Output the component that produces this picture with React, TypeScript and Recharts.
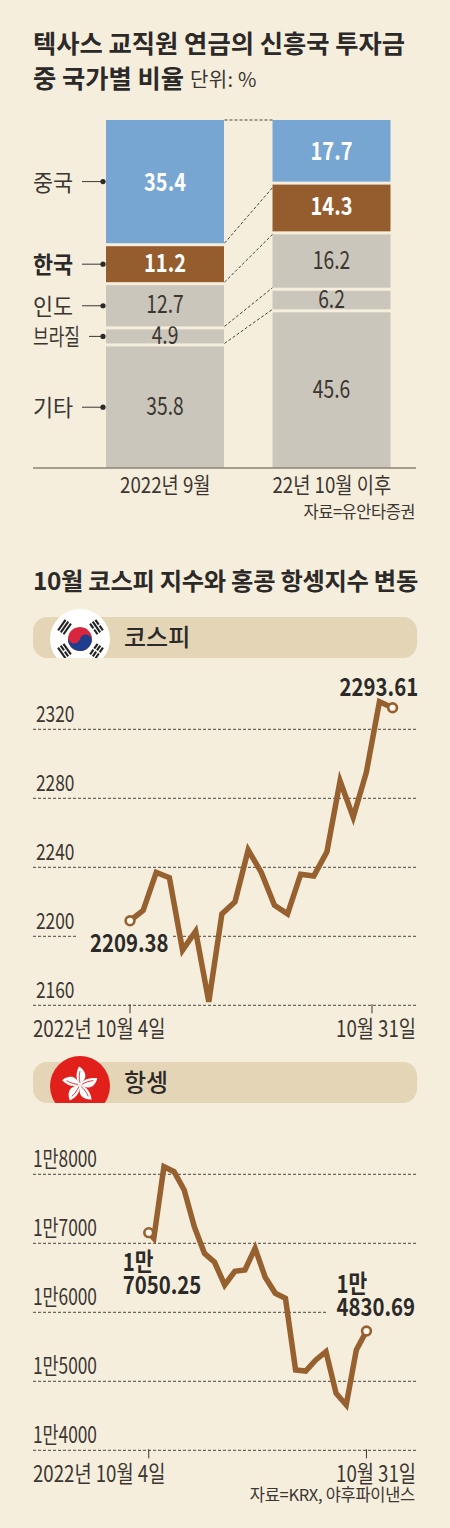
import {
  BarChart,
  Bar,
  LineChart,
  Line,
  XAxis,
  YAxis,
  CartesianGrid,
} from "recharts";

const BG = "#f6eedd";
const PILL = "#e4d5b6";
const DARK = "#2b2a28";
const TEXT = "#3b3631";
const BROWN = "#96602f";
const KR = '"Noto Sans CJK KR", sans-serif';

// stacked shares, bottom to top
const periods = ["2022년 9월", "22년 10월 이후"];
const seriesNames = ["기타", "브라질", "인도", "한국", "중국"];
const otherShare = [35.8, 45.6];
const brazilShare = [4.9, 6.2];
const indiaShare = [12.7, 16.2];
const koreaShare = [11.2, 14.3];
const chinaShare = [35.4, 17.7];
const shares = [otherShare, brazilShare, indiaShare, koreaShare, chinaShare];
const segmentColors = ["#cbc6bb", "#cbc6bb", "#cbc6bb", "#955d2d", "#76a6d1"];
const connectorDrop = [0, 0, 3, 6, 0];

const stackData = periods.map((period, i) => ({
  period,
  s0: otherShare[i],
  s1: brazilShare[i],
  s2: indiaShare[i],
  s3: koreaShare[i],
  s4: chinaShare[i],
}));

// (positions sit on the printed axis, not the callouts)
const kospiX = [0, 1, 2, 3, 4, 5, 6, 7, 8, 9, 10, 11, 12, 13, 14, 15, 16, 17, 18, 19, 20];
const kospiValues = [
  2209, 2215, 2237, 2234, 2192, 2203, 2162, 2213, 2220, 2250, 2237, 2218, 2213, 2236, 2235, 2249,
  2290, 2269, 2295, 2336, 2332.5,
];
const kospiTicks = [2160, 2200, 2240, 2280, 2320];

const hsiX = [-0.5, 0, 1, 2, 3, 4, 5, 6, 7, 8, 9, 10, 11, 12, 13, 14, 15, 16, 17, 18, 19, 20, 21];
const hsiValues = [
  17154, 17072, 18110, 18038, 17772, 17241, 16855, 16725, 16396, 16594, 16613, 16928, 16507, 16275,
  16203, 15164, 15149, 15309, 15429, 14826, 14657, 15454, 15729,
];
const hsiTicks = [14000, 15000, 16000, 17000, 18000];

const toRows = (xs: number[], ys: number[]) => xs.map((x, i) => ({ x, y: ys[i] }));

// the print uses a condensed gothic, so squeeze the glyphs horizontally
function NText({ x, y, size, sx = 0.82, weight = 400, fill = TEXT, anchor = "start", children }: any) {
  return (
    <text
      transform={`translate(${x} ${y}) scale(${sx} 1)`}
      textAnchor={anchor}
      fontFamily={KR}
      fontSize={size}
      fontWeight={weight}
      fill={fill}
    >
      {children}
    </text>
  );
}

function SegmentShape(props: any) {
  const { x, y, width, height, index, fill, series } = props;
  const inset = series === 4 ? 0 : 3;
  const own = shares[series];
  const perUnit = height / own[index];
  const cum = (col: number) => shares.slice(0, series + 1).reduce((s, a) => s + a[col], 0);
  const midY = y + height / 2 + inset / 2;
  const name = seriesNames[series];
  const strong = series >= 3;
  const isKorea = name === "한국";
  return (
    <g>
      <rect x={x} y={y + inset} width={width} height={height - inset} fill={fill} />
      <NText
        x={x + width / 2}
        y={y + height / 2 + 9}
        size={25}
        sx={strong ? 0.8 : 0.77}
        weight={strong ? 700 : 400}
        fill={strong ? "#fff" : TEXT}
        anchor="middle"
      >
        {own[index].toFixed(1)}
      </NText>
      {index === 0 && (
        <g>
          <NText
            x={33}
            y={midY + 9}
            size={23}
            sx={name.length > 2 ? 0.74 : 0.95}
            weight={isKorea ? 700 : 400}
            fill={isKorea ? DARK : TEXT}
          >
            {name}
          </NText>
          <line x1={name.length > 2 ? 89 : 82} x2={103} y1={midY} y2={midY} stroke={TEXT} strokeWidth={1} />
          <circle cx={103} cy={midY} r={2.6} fill={DARK} />
        </g>
      )}
      {index === 1 && (
        <line
          x1={x - 48}
          y1={y + (cum(1) - cum(0)) * perUnit}
          x2={x}
          y2={y + connectorDrop[series]}
          stroke="#46413b"
          strokeWidth={1}
          strokeDasharray="3 2"
        />
      )}
    </g>
  );
}

function PeriodTick({ x, y, payload }: any) {
  return (
    <NText x={x} y={y + 17} size={22} sx={0.85} anchor="middle">
      {payload.value}
    </NText>
  );
}

function YTick({ x0, payload, y, format }: any) {
  return (
    <NText x={x0} y={y - 7} size={22.5} sx={0.77}>
      {format(payload.value)}
    </NText>
  );
}

function XTick({ x, y, payload, index, labels }: any) {
  const first = index === 0;
  return (
    <g>
      <line x1={x} x2={x} y1={y - 9} y2={y} stroke={TEXT} strokeWidth={1} />
      <NText x={first ? 33 : 416} y={y + 24} size={22.5} sx={0.83} anchor={first ? "start" : "end"}>
        {labels[index]}
      </NText>
    </g>
  );
}

type Callout = { lines: string[]; x: number; y: number; mask: number[] };

function endDot(last: number, callouts: Record<number, Callout>) {
  return (props: any) => {
    const { cx, cy, index } = props;
    const c = callouts[index];
    if (index !== 0 && index !== last) return <g key={index} />;
    return (
      <g key={index}>
        {c.mask.length > 0 && (
          <rect x={cx + c.mask[0]} y={cy + c.mask[1]} width={c.mask[2]} height={c.mask[3]} fill={BG} />
        )}
        <circle cx={cx} cy={cy} r={4.4} fill="#fbf7ee" stroke={BROWN} strokeWidth={2.6} />
        {c.lines.map((line, i) => (
          <NText key={line} x={cx + c.x} y={cy + c.y + i * 23} size={24.5} sx={0.83} weight={700} fill={DARK}>
            {line}
          </NText>
        ))}
      </g>
    );
  };
}

function IndexChart({ top, height, marginTop, xAxisH, rows, domain, ticks, xDomain, xTicks, xLabels, tickX, format, callouts }: any) {
  return (
    <div style={{ position: "absolute", left: 0, top }}>
      <LineChart width={450} height={height} data={rows} margin={{ top: marginTop, right: 33, bottom: 0, left: 32 }}>
        <CartesianGrid vertical={false} horizontalValues={ticks} stroke="#4a4540" strokeDasharray="3 2" />
        <XAxis
          dataKey="x"
          type="number"
          domain={xDomain}
          ticks={xTicks}
          height={xAxisH}
          axisLine={false}
          tickLine={false}
          interval={0}
          tick={(p: any) => <XTick {...p} labels={xLabels} />}
        />
        <YAxis
          width={1}
          domain={domain}
          ticks={ticks}
          axisLine={false}
          tickLine={false}
          interval={0}
          tick={(p: any) => <YTick {...p} x0={tickX} format={format} />}
        />
        <Line
          dataKey="y"
          stroke={BROWN}
          strokeWidth={5.5}
          strokeLinejoin="miter"
          isAnimationActive={false}
          dot={endDot(rows.length - 1, callouts)}
        />
      </LineChart>
    </div>
  );
}

function Text({ x, y, size, weight = 400, color = DARK, right, spacing = 0, lineHeight = 1.2, children }: any) {
  return (
    <div
      style={{
        position: "absolute",
        top: y,
        left: right === undefined ? x : undefined,
        right: right === undefined ? undefined : 450 - right,
        fontFamily: KR,
        fontSize: size,
        fontWeight: weight,
        color,
        letterSpacing: spacing,
        lineHeight,
        whiteSpace: "nowrap",
      }}
    >
      {children}
    </div>
  );
}

function Pill({ y }: { y: number }) {
  return <div style={{ position: "absolute", left: 33, top: y, width: 384, height: 41, borderRadius: 14, background: PILL }} />;
}

function Trigram({ dx, dy, angle, pattern }: { dx: number; dy: number; angle: number; pattern: number[] }) {
  // pattern: 0 = solid stroke, 1 = stroke with a break in the middle
  return (
    <g transform={`translate(${dx} ${dy}) rotate(${angle})`}>
      {pattern.map((broken, i) => (
        <g key={i} transform={`translate(0 ${i * 3.3 - 3.3})`}>
          {broken ? (
            <>
              <rect x={-6.5} y={-1} width={5.8} height={2.1} fill="#222" />
              <rect x={0.7} y={-1} width={5.8} height={2.1} fill="#222" />
            </>
          ) : (
            <rect x={-6.5} y={-1} width={13} height={2.1} fill="#222" />
          )}
        </g>
      ))}
    </g>
  );
}

function KoreaFlag() {
  return (
    <div style={{ position: "absolute", left: 50, top: 609, width: 60, height: 49, overflow: "hidden" }}>
      <svg width={60} height={60} viewBox="-30 -30 60 60" style={{ display: "block" }}>
        <circle r={30} fill="#fff" />
        <g transform="rotate(15)">
          <circle r={12} fill="#d8263c" />
          <path d="M-12 0 A12 12 0 0 0 12 0 A6 6 0 0 0 0 0 A6 6 0 0 1 -12 0 Z" fill="#1d3d8f" />
        </g>
        <Trigram dx={-15.5} dy={-12} angle={-55} pattern={[0, 0, 0]} />
        <Trigram dx={16.5} dy={-12} angle={55} pattern={[1, 0, 1]} />
        <Trigram dx={-15.5} dy={12} angle={55} pattern={[0, 1, 0]} />
        <Trigram dx={16.5} dy={12} angle={-55} pattern={[1, 1, 1]} />
      </svg>
    </div>
  );
}

function HongKongFlag() {
  const petal = "M0 0 C-3 -3 -5.5 -10 -1 -18.5 C3.5 -16 6.5 -11 5 -7 C4 -4 1.5 -2 0 0 Z";
  return (
    <div style={{ position: "absolute", left: 50, top: 1056, width: 60, height: 47, overflow: "hidden" }}>
      <svg width={60} height={60} viewBox="-30 -30 60 60" style={{ display: "block" }}>
        <circle r={30} fill="#e1201c" />
        <g transform="translate(0 -1)">
          {[0, 72, 144, 216, 288].map((a) => (
            <g key={a} transform={`rotate(${a})`}>
              <path d={petal} fill="#fff" />
              <path d="M0 -2 C-1 -6 -1 -10 0 -14" fill="none" stroke="#e1201c" strokeWidth={0.8} />
            </g>
          ))}
        </g>
      </svg>
    </div>
  );
}

const krw = (v: number) => `1만${v - 10000}`;

export default function App() {
  return (
    <div style={{ position: "absolute", left: 0, top: 0, width: 450, height: 1528, background: BG, overflow: "hidden" }}>
      <Text x={33} y={27} size={25.3} weight={700}>텍사스 교직원 연금의 신흥국 투자금</Text>
      <Text x={33} y={62} size={25.3} weight={700}>중 국가별 비율</Text>
      <Text x={190} y={67} size={20} color={TEXT} spacing={0.3}>단위: %</Text>

      <div style={{ position: "absolute", left: 0, top: 0 }}>
        <BarChart width={450} height={530} data={stackData} margin={{ top: 120, right: 34, bottom: 0, left: 33 }}>
          <XAxis
            dataKey="period"
            height={62}
            padding={{ left: 49, right: 1 }}
            axisLine={{ stroke: "#8d8273", strokeWidth: 1.5 }}
            tickLine={false}
            tick={(p: any) => <PeriodTick {...p} />}
            interval={0}
          />
          <YAxis hide domain={[0, 100]} />
          {shares.map((_, s) => (
            <Bar
              key={s}
              dataKey={`s${s}`}
              stackId="share"
              barSize={118}
              fill={segmentColors[s]}
              isAnimationActive={false}
              shape={(p: any) => <SegmentShape {...p} series={s} />}
            />
          ))}
        </BarChart>
      </div>
      <Text right={415} y={503} size={16.5} color={TEXT} spacing={-0.5} lineHeight={1}>자료=유안타증권</Text>

      <Text x={33} y={565} size={24.3} weight={700} spacing={-0.3}>10월 코스피 지수와 홍콩 항셍지수 변동</Text>

      <Pill y={617} />
      <KoreaFlag />
      <Text x={124} y={622} size={24} weight={500}>코스피</Text>
      <IndexChart
        top={660}
        height={395}
        marginTop={34.8}
        xAxisH={49.7}
        rows={toRows(kospiX, kospiValues)}
        domain={[2160, 2340]}
        ticks={kospiTicks}
        xDomain={[-7.39, 21.86]}
        xTicks={[0, 18.43]}
        xLabels={["2022년 10월 4일", "10월 31일"]}
        tickX={36}
        format={(v: number) => `${v}`}
        callouts={{
          0: { lines: ["2209.38"], x: -40, y: 31, mask: [-52, 8, 93, 27] },
          20: { lines: ["2293.61"], x: -53, y: -12, mask: [] },
        }}
      />

      <Pill y={1062} />
      <HongKongFlag />
      <Text x={124} y={1067} size={24} weight={500}>항셍</Text>
      <IndexChart
        top={1100}
        height={400}
        marginTop={60.5}
        xAxisH={49.7}
        rows={toRows(hsiX, hsiValues)}
        domain={[14000, 18200]}
        ticks={hsiTicks}
        xDomain={[-11.93, 25.99]}
        xTicks={[-0.5, 21]}
        xLabels={["2022년 10월 4일", "10월 31일"]}
        tickX={33}
        format={krw}
        callouts={{
          0: { lines: ["1만", "7050.25"], x: -26, y: 38, mask: [] },
          22: { lines: ["1만", "4830.69"], x: -30, y: -38, mask: [-39, -62, 90, 52] },
        }}
      />
      <Text right={415} y={1486} size={16.5} color={TEXT} spacing={-0.3} lineHeight={1}>자료=KRX, 야후파이낸스</Text>
    </div>
  );
}
